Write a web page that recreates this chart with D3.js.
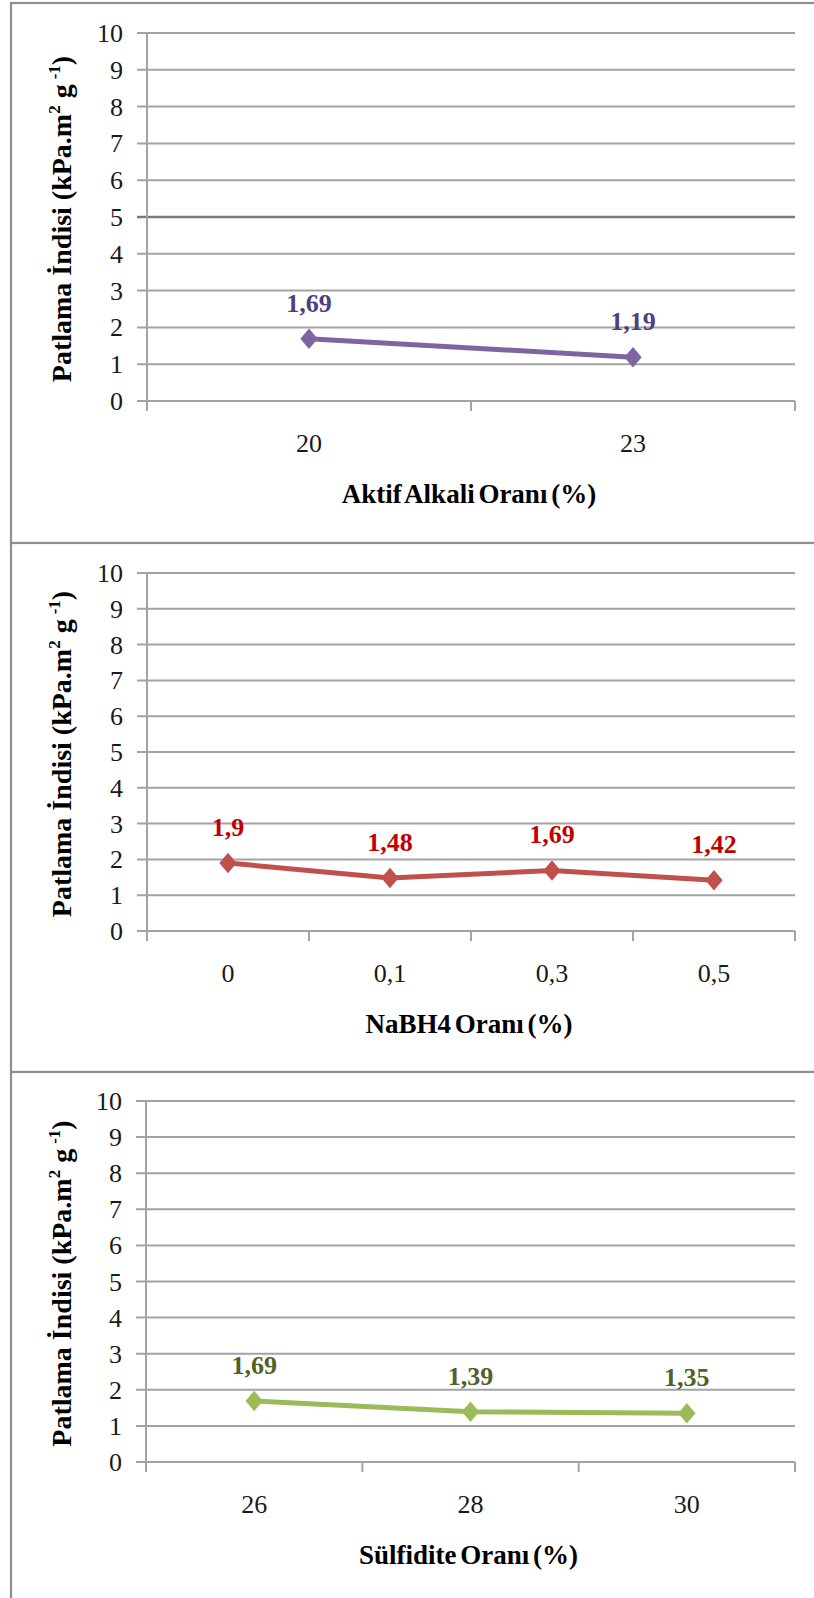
<!DOCTYPE html>
<html>
<head>
<meta charset="utf-8">
<script src="https://cdn.jsdelivr.net/npm/d3@7"></script>
<style>
  html, body { margin: 0; padding: 0; background: #fff; }
  svg { display: block; }
  text { font-family: "Liberation Serif", "Times New Roman", serif; }
</style>
</head>
<body>
<svg id="chart" width="814" height="1598"></svg>
<script>
// ---- data ----
const yTicks = [0, 1, 2, 3, 4, 5, 6, 7, 8, 9, 10];

const aktifCategories = ["20", "23"];
const aktifValues = [1.69, 1.19];
const aktifLabels = ["1,69", "1,19"];

const nabh4Categories = ["0", "0,1", "0,3", "0,5"];
const nabh4Values = [1.9, 1.48, 1.69, 1.42];
const nabh4Labels = ["1,9", "1,48", "1,69", "1,42"];

const sulfiditeCategories = ["26", "28", "30"];
const sulfiditeValues = [1.69, 1.39, 1.35];
const sulfiditeLabels = ["1,69", "1,39", "1,35"];

const xTitles = ["Aktif Alkali Oranı (%)", "NaBH4 Oranı (%)", "Sülfidite Oranı (%)"];

// ---- layout of the three stacked panels ----
const panels = [
  { top: 3,    height: 540, y10: 33,   y0: 401,   left: 147, right: 795,
    cats: aktifCategories, vals: aktifValues, labels: aktifLabels, title: xTitles[0],
    line: "#8064A2", labelColor: "#4F3F7F", darkFive: true },
  { top: 543,  height: 529, y10: 573,  y0: 931,   left: 147, right: 795,
    cats: nabh4Categories, vals: nabh4Values, labels: nabh4Labels, title: xTitles[1],
    line: "#C0504D", labelColor: "#C00000" },
  { top: 1072, height: 600, y10: 1101, y0: 1462,  left: 146, right: 795,
    cats: sulfiditeCategories, vals: sulfiditeValues, labels: sulfiditeLabels, title: xTitles[2],
    line: "#9BBB59", labelColor: "#4F6228" }
];

const svg = d3.select("#chart");
const gridColor = "#a3a3a3";

panels.forEach(p => {
  const g = svg.append("g");

  // panel frame
  g.append("rect")
    .attr("x", 11).attr("y", p.top)
    .attr("width", 830).attr("height", p.height)
    .attr("fill", "#fff").attr("stroke", "#8f8f8f").attr("stroke-width", 2.2);

  const x = d3.scaleBand().domain(p.cats).range([p.left, p.right]).padding(0);
  const y = d3.scaleLinear().domain([0, 10]).range([p.y0, p.y10]);

  // horizontal gridlines with tick marks to the left of the axis
  g.append("g").selectAll("line").data(yTicks).join("line")
    .attr("x1", p.left - 10).attr("x2", p.right)
    .attr("y1", d => y(d)).attr("y2", d => y(d))
    .attr("stroke", d => (p.darkFive && d === 5) ? "#7a7a7a" : gridColor)
    .attr("stroke-width", d => (p.darkFive && d === 5) ? 2.6 : 2);

  // vertical axis
  g.append("line")
    .attr("x1", p.left).attr("x2", p.left)
    .attr("y1", y(10)).attr("y2", y(0) + 10)
    .attr("stroke", gridColor).attr("stroke-width", 2);

  // category boundary ticks on the x axis
  const bounds = p.cats.map(c => x(c)).concat([x(p.cats[p.cats.length - 1]) + x.bandwidth()]);
  g.append("g").selectAll("line").data(bounds).join("line")
    .attr("x1", d => d).attr("x2", d => d)
    .attr("y1", y(0)).attr("y2", y(0) + 10)
    .attr("stroke", gridColor).attr("stroke-width", 2);

  // y tick labels
  g.append("g").selectAll("text").data(yTicks).join("text")
    .attr("x", p.left - 24).attr("y", d => y(d) + 9)
    .attr("text-anchor", "end")
    .attr("font-size", 26).attr("fill", "#1a1a1a")
    .text(d => d);

  // x tick labels
  g.append("g").selectAll("text").data(p.cats).join("text")
    .attr("x", d => x(d) + x.bandwidth() / 2).attr("y", y(0) + 51)
    .attr("text-anchor", "middle")
    .attr("font-size", 26).attr("fill", "#1a1a1a")
    .text(d => d);

  // x axis title
  g.append("text")
    .attr("x", (p.left + p.right) / 2 - 2).attr("y", y(0) + 102)
    .attr("text-anchor", "middle")
    .attr("font-size", 27).attr("font-weight", "bold")
    .attr("word-spacing", -3)
    .attr("fill", "#000")
    .text(p.title);

  // y axis title (rotated)
  const cy = (y(0) + y(10)) / 2 + 2;
  const yt = g.append("text")
    .attr("transform", `translate(71,${cy}) rotate(-90)`)
    .attr("text-anchor", "middle")
    .attr("font-size", 28).attr("font-weight", "bold").attr("fill", "#000");
  yt.append("tspan").text("Patlama İndisi (kPa.m");
  yt.append("tspan").attr("font-size", 17).attr("dy", -11).text("2");
  yt.append("tspan").attr("dy", 11).text(" g");
  yt.append("tspan").attr("font-size", 17).attr("dy", -11).attr("dx", 5).text("-1");
  yt.append("tspan").attr("dy", 11).text(")");

  // series line
  const pts = p.cats.map((c, i) => [x(c) + x.bandwidth() / 2, y(p.vals[i])]);
  g.append("path")
    .attr("d", d3.line()(pts))
    .attr("fill", "none").attr("stroke", p.line)
    .attr("stroke-width", 5).attr("stroke-linejoin", "round");

  // diamond markers
  const diamond = {
    draw(ctx, size) {
      const w = Math.sqrt(size) / 2, h = w * 1.18;
      ctx.moveTo(0, -h); ctx.lineTo(w, 0); ctx.lineTo(0, h); ctx.lineTo(-w, 0); ctx.closePath();
    }
  };
  g.append("g").selectAll("path").data(pts).join("path")
    .attr("transform", d => `translate(${d[0]},${d[1]})`)
    .attr("d", d3.symbol().type(diamond).size(300))
    .attr("fill", p.line);

  // value labels
  g.append("g").selectAll("text").data(pts).join("text")
    .attr("x", d => d[0]).attr("y", d => d[1] - 27)
    .attr("text-anchor", "middle")
    .attr("font-size", 26).attr("font-weight", "bold")
    .attr("fill", p.labelColor)
    .text((d, i) => p.labels[i]);
});
</script>
</body>
</html>
